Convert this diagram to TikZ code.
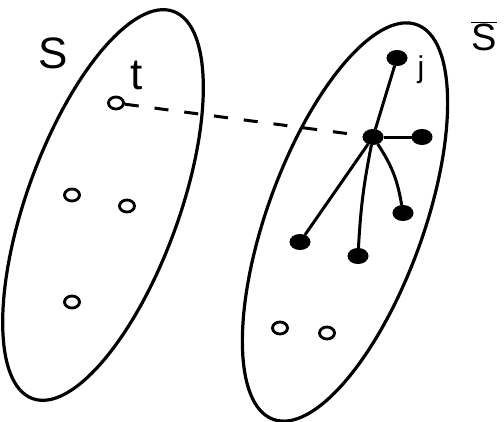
\documentclass[tikz,border=0pt]{standalone}
\usepackage{fontspec}
\setmainfont{Liberation Sans}
\usetikzlibrary{shapes.geometric}
\begin{document}
\begin{tikzpicture}[x=1pt,y=-1pt,
  outline/.style={line width=3.2pt},
  opn/.style={draw, ellipse, line width=2.8pt, minimum width=15pt, minimum height=12pt, inner sep=0pt},
  fil/.style={fill, draw, ellipse, line width=1pt, minimum width=20pt, minimum height=15pt, inner sep=0pt},
  edge/.style={line width=3pt},
  lbl/.style={inner sep=0pt, font=\fontsize{44}{44}\selectfont}
]
\useasboundingbox (0,0) rectangle (504,421);
% sets
\draw[outline, rotate around={70:(103,205)}] (103,205) ellipse [x radius=206, y radius=76];
\draw[outline, rotate around={70:(345,222)}] (345,222) ellipse [x radius=210, y radius=78];
% left vertices
\node[opn] (t) at (116,103) {};
\node[opn] (a1) at (72,195) {};
\node[opn] (a2) at (127,206) {};
\node[opn] (a3) at (72,302) {};
% right vertices
\node[fil] (hub) at (373,137) {};
\node[fil] (j) at (397,58) {};
\node[fil] (b1) at (422,137) {};
\node[fil] (b2) at (403,213) {};
\node[fil] (b3) at (358,256) {};
\node[fil] (b4) at (300,242) {};
\node[opn] (c1) at (280,328) {};
\node[opn] (c2) at (327,333) {};
% labels
\node[lbl] (Sl) at (53,53) {S};
\node[lbl] (tl) at (137,75) {t};
\node[lbl, font=\fontsize{30}{30}\selectfont] (jl) at (421,70) {j};
\node[lbl, font=\fontsize{38}{38}\selectfont] (Sbar) at (484,36) {$\overline{\mbox{S}}$};
% connectors
\draw[edge, dash pattern=on 14pt off 16pt] (t) -- (hub);
\draw[edge] (hub) -- (j);
\draw[edge] (hub) -- (b1);
\draw[edge] (hub) to[bend left=12] (b2);
\draw[edge] (hub) to[bend right=4] (b3);
\draw[edge] (hub) -- (b4);
\end{tikzpicture}
\end{document}
